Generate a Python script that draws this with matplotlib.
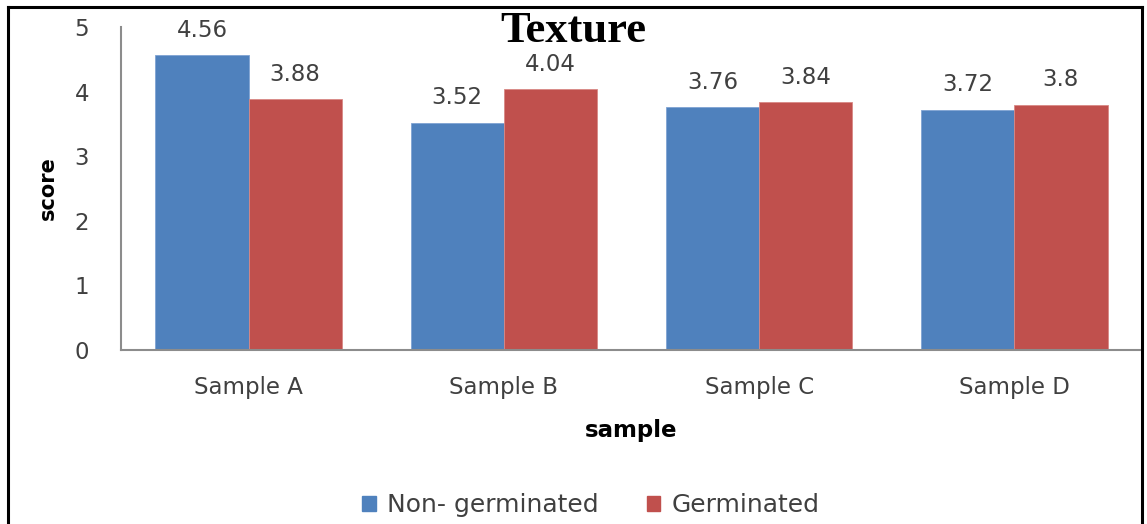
import matplotlib
matplotlib.use("Agg")
import matplotlib.pyplot as plt
import numpy as np
from matplotlib.lines import Line2D
from matplotlib.patches import Patch

samples = ["Sample A", "Sample B", "Sample C", "Sample D"]
non_germinated = [4.56, 3.52, 3.76, 3.72]
germinated = [3.88, 4.04, 3.84, 3.8]
value_labels_ng = ["4.56", "3.52", "3.76", "3.72"]
value_labels_g = ["3.88", "4.04", "3.84", "3.8"]
series_names = ["Non- germinated", "Germinated"]
y_ticks = [0, 1, 2, 3, 4, 5]

BLUE = "#4F81BD"
RED = "#C0504D"
TEXT = "#404040"
AXIS = "#8C8C8C"

W, H = 1147, 524
fig = plt.figure(figsize=(W / 100, H / 100), dpi=100)
fig.patch.set_facecolor("white")

ax = fig.add_axes([121 / W, 1 - 350 / H, (1142 - 121) / W, (350 - 27) / H])
x = np.arange(len(samples))
bw = 0.365
b1 = ax.bar(x - bw / 2, non_germinated, bw, color=BLUE, edgecolor="#7FA3D3", linewidth=0.6)
b2 = ax.bar(x + bw / 2, germinated, bw, color=RED, edgecolor="#D88985", linewidth=0.6)

for bars, labels in ((b1, value_labels_ng), (b2, value_labels_g)):
    for rect, lab in zip(bars, labels):
        ax.annotate(lab, (rect.get_x() + rect.get_width() / 2, rect.get_height()),
                    xytext=(0, 9.5), textcoords="offset points", ha="center", va="bottom",
                    fontsize=16.5, color=TEXT)

ax.set_xlim(-0.5, 3.5)
ax.set_ylim(0, 5)
ax.set_yticks(y_ticks)
ax.set_xticks(x)
ax.set_xticklabels(samples)
ax.tick_params(axis="both", length=0, labelsize=16.5, labelcolor=TEXT)
ax.tick_params(axis="y", pad=23)
ax.tick_params(axis="x", pad=19)
for s in ("top", "right"):
    ax.spines[s].set_visible(False)
for s in ("left", "bottom"):
    ax.spines[s].set_color(AXIS)
    ax.spines[s].set_linewidth(1.5)

ax.set_ylabel("score", fontsize=15, fontweight="bold", color="black", labelpad=12)
ax.set_xlabel("sample", fontsize=16.5, fontweight="bold", color="black", labelpad=14)

fig.text(573 / W, 1 - 31 / H, "Texture", family="Liberation Serif", fontweight="bold",
         fontsize=32, ha="center", va="center", color="black")

handles = [Patch(facecolor=BLUE, edgecolor=BLUE), Patch(facecolor=RED, edgecolor=RED)]
fig.legend(handles, series_names, loc="center", bbox_to_anchor=(591 / W, 1 - 505 / H),
           ncol=2, frameon=False, fontsize=18, handlelength=0.55, handleheight=0.55,
           handletextpad=0.45, columnspacing=1.9, labelcolor=TEXT)

# outer frame around the figure
frame_kw = dict(color="black", linewidth=2.2, transform=fig.transFigure, clip_on=False)
fig.add_artist(Line2D([8 / W, 8 / W], [1 - 7 / H, 0], **frame_kw))
fig.add_artist(Line2D([8 / W, 1142 / W], [1 - 7 / H, 1 - 7 / H], **frame_kw))
fig.add_artist(Line2D([1142 / W, 1142 / W], [1 - 7 / H, 0], **frame_kw))

fig.savefig("out.png", dpi=100)
